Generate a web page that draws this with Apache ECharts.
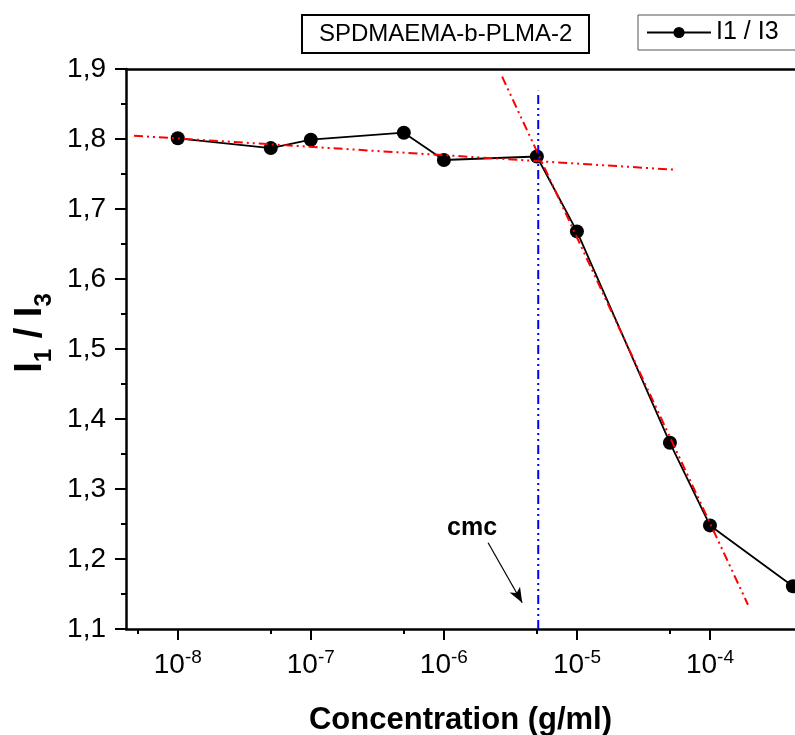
<!DOCTYPE html>
<html>
<head>
<meta charset="utf-8">
<script src="https://cdn.jsdelivr.net/npm/echarts@6/dist/echarts.min.js"></script>
<style>
  html, body { margin: 0; padding: 0; background: #fff; }
  #chart { width: 795px; height: 735px; }
</style>
</head>
<body>
<div id="chart"></div>
<script>
// Pyrene fluorescence ratio I1/I3 versus polymer concentration
const concentration = [1e-8, 5e-8, 1e-7, 5e-7, 1e-6, 5e-6, 1e-5, 5e-5, 1e-4, 4.2e-4];
const ratioI1I3 = [1.801, 1.787, 1.799, 1.809, 1.770, 1.775, 1.668, 1.366, 1.248, 1.161];

// Linear fits (on log concentration) of the plateau and of the decline
const plateauFit = [[4.69e-9, 1.8047], [5.55e-5, 1.756]];
const declineFit = [[2.74e-6, 1.889], [1.93e-4, 1.1347]];

// Critical micelle concentration marker and its pointer
const cmcLine = [[5.12e-6, 1.1], [5.12e-6, 1.869]];
const cmcArrow = [[2.15e-6, 1.2233], [3.88e-6, 1.1376]];

// Axis ticks
const xMajorTicks = [1e-8, 1e-7, 1e-6, 1e-5, 1e-4];
const xMinorTicks = [5e-9, 5e-8, 5e-7, 5e-6, 5e-5];
const xMin = Math.pow(10, -8.389);
const xMax = Math.pow(10, -3.361);
const yMin = 1.1, yMax = 1.9, yStep = 0.1;

const FONT = '"Liberation Sans", Arial, sans-serif';
const chart = echarts.init(document.getElementById('chart'), null, { renderer: 'canvas' });

const pairs = concentration.map((c, i) => [c, ratioI1I3[i]]);
const dashDotDot = [9, 4, 2, 4, 2, 4];

chart.setOption({
  animation: false,
  backgroundColor: '#fff',
  textStyle: { fontFamily: FONT, color: '#000' },
  title: {
    text: 'SPDMAEMA-b-PLMA-2',
    left: 302, top: 15,
    padding: [7, 17, 7, 17],
    borderColor: '#000', borderWidth: 2,
    textStyle: { fontFamily: FONT, fontSize: 24, fontWeight: 'normal', color: '#000', lineHeight: 24 }
  },
  legend: {
    data: ['I1 / I3'],
    left: 638, top: 15,
    padding: [5, 40, 5, 8],
    borderColor: '#555', borderWidth: 1,
    itemWidth: 64, itemHeight: 14, itemGap: 7,
    textStyle: { fontFamily: FONT, fontSize: 25, color: '#000' }
  },
  grid: { left: 126, top: 69, right: 0, bottom: 106, containLabel: false, outerBoundsMode: 'none' },
  xAxis: [
    {
      type: 'log', logBase: 10, min: xMin, max: xMax,
      name: 'Concentration (g/ml)', nameLocation: 'middle', nameGap: 76,
      nameTextStyle: { fontFamily: FONT, fontSize: 31, fontWeight: 'bold', color: '#000' },
      axisLine: { show: true, onZero: false, lineStyle: { color: '#000', width: 2.5 } },
      axisTick: { show: true, length: 11, lineStyle: { width: 2, color: '#000' }, customValues: xMajorTicks },
      axisLabel: {
        show: true, margin: 19, customValues: xMajorTicks,
        formatter: v => '{b|10}{s|' + Math.round(Math.log10(v)) + '}',
        rich: {
          b: { fontFamily: FONT, fontSize: 28, color: '#000' },
          s: { fontFamily: FONT, fontSize: 19, color: '#000', padding: [0, 0, 15, 0] }
        }
      },
      splitLine: { show: false }, minorTick: { show: false }
    },
    {
      type: 'log', logBase: 10, min: xMin, max: xMax, position: 'bottom',
      axisLine: { show: false },
      axisTick: { show: true, length: 5, lineStyle: { width: 2, color: '#000' }, customValues: xMinorTicks },
      axisLabel: { show: false },
      splitLine: { show: false }
    },
    {
      type: 'log', logBase: 10, min: xMin, max: xMax, position: 'top',
      axisLine: { show: true, onZero: false, lineStyle: { color: '#000', width: 2.5 } },
      axisTick: { show: false }, axisLabel: { show: false }, splitLine: { show: false }
    }
  ],
  yAxis: {
    type: 'value', min: yMin, max: yMax, interval: yStep,
    name: '{b|I}{sub|1}{b| / I}{sub|3}', nameLocation: 'middle', nameGap: 70, nameRotate: 90,
    nameTextStyle: {
      padding: [0, 0, 0, 32],
      rich: {
        b: { fontFamily: FONT, fontSize: 38, fontWeight: 'bold', color: '#000' },
        sub: { fontFamily: FONT, fontSize: 24, fontWeight: 'bold', color: '#000', padding: [26, 0, 0, 0] }
      }
    },
    axisLine: { show: true, onZero: false, lineStyle: { color: '#000', width: 2.5 } },
    axisTick: { show: true, length: 11, lineStyle: { width: 2, color: '#000' } },
    minorTick: { show: true, splitNumber: 2, length: 5, lineStyle: { width: 2, color: '#000' } },
    axisLabel: {
      margin: 20, fontFamily: FONT, fontSize: 28, color: '#000',
      formatter: v => v.toFixed(1).replace('.', ',')
    },
    splitLine: { show: false }
  },
  series: [
    {
      name: 'I1 / I3', type: 'line', data: pairs,
      symbol: 'circle', symbolSize: 14,
      lineStyle: { color: '#000', width: 1.8 },
      itemStyle: { color: '#000' },
      z: 2
    },
    {
      name: 'plateau fit', type: 'line', data: plateauFit, symbol: 'none',
      lineStyle: { color: '#ff0000', width: 2, type: dashDotDot }, z: 3
    },
    {
      name: 'decline fit', type: 'line', data: declineFit, symbol: 'none',
      lineStyle: { color: '#ff0000', width: 2, type: dashDotDot }, z: 3
    },
    {
      name: 'cmc', type: 'line', data: cmcLine, symbol: 'none',
      lineStyle: { color: '#0000ff', width: 2, type: dashDotDot }, z: 4,
      markLine: {
        silent: true, symbol: ['none', 'arrow'], symbolSize: [9, 15],
        lineStyle: { color: '#000', width: 1.2, type: 'solid' },
        label: { show: false },
        data: [[{ coord: cmcArrow[0] }, { coord: cmcArrow[1] }]]
      }
    }
  ],
  graphic: [
    {
      type: 'text', x: 447, y: 528,
      style: { text: 'cmc', font: 'bold 25px ' + FONT, fill: '#000', align: 'left', verticalAlign: 'middle' }
    }
  ]
});
</script>
</body>
</html>
